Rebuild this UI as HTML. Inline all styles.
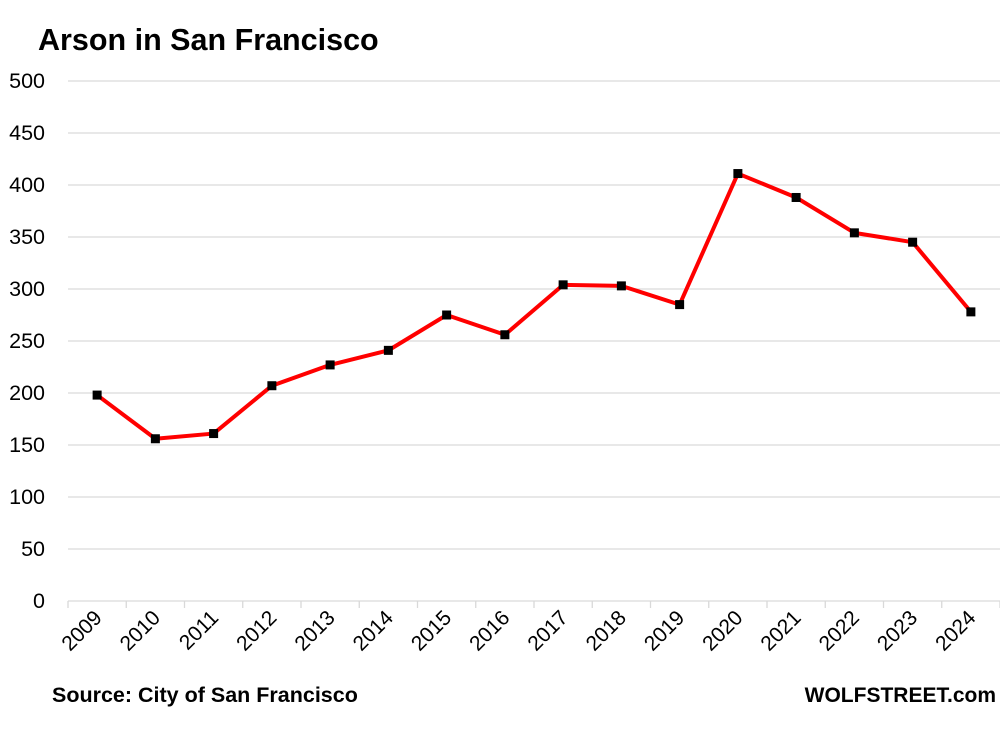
<!DOCTYPE html>
<html><head><style>
body{margin:0;background:#fff;}
svg{display:block;font-family:"Liberation Sans",Arial,sans-serif;}
</style></head><body>
<svg width="1000" height="729" viewBox="0 0 1000 729">
<text x="38" y="50" font-size="30.5" font-weight="bold" fill="#000">Arson in San Francisco</text>
<g stroke="#d9d9d9" stroke-width="1.3">
<line x1="68" y1="81" x2="1000" y2="81"/><line x1="68" y1="133" x2="1000" y2="133"/>
<line x1="68" y1="185" x2="1000" y2="185"/><line x1="68" y1="237" x2="1000" y2="237"/>
<line x1="68" y1="289" x2="1000" y2="289"/><line x1="68" y1="341" x2="1000" y2="341"/>
<line x1="68" y1="393" x2="1000" y2="393"/><line x1="68" y1="445" x2="1000" y2="445"/>
<line x1="68" y1="497" x2="1000" y2="497"/><line x1="68" y1="549" x2="1000" y2="549"/>
<line x1="68" y1="601" x2="1000" y2="601"/>
</g>
<g stroke="#d9d9d9" stroke-width="1.3" id="ticks"></g>
<g font-size="21.5" fill="#000" text-anchor="end">
<text x="45" y="88">500</text><text x="45" y="140">450</text><text x="45" y="192">400</text>
<text x="45" y="244">350</text><text x="45" y="296">300</text><text x="45" y="348">250</text>
<text x="45" y="400">200</text><text x="45" y="452">150</text><text x="45" y="504">100</text>
<text x="45" y="556">50</text><text x="45" y="608">0</text>
</g>
<g id="xl" font-size="21" fill="#000" text-anchor="end"></g>
<polyline id="ln" fill="none" stroke="#ff0000" stroke-width="4" stroke-linejoin="round"/>
<g id="mk" fill="#000"></g>
<text x="52" y="702" font-size="21.5" font-weight="bold">Source: City of San Francisco</text>
<text x="996" y="702" font-size="21" font-weight="bold" text-anchor="end">WOLFSTREET.com</text>
<script>
var d=[198,156,161,207,227,241,275,256,304,303,285,411,388,354,345,278];
var w=932/16,pts=[],ns="http://www.w3.org/2000/svg";
var xl=document.getElementById('xl'),mk=document.getElementById('mk'),tk=document.getElementById('ticks');
for(var i=0;i<=16;i++){var tx=68+i*w;var l=document.createElementNS(ns,'line');l.setAttribute('x1',tx);l.setAttribute('x2',tx);l.setAttribute('y1',601);l.setAttribute('y2',608);tk.appendChild(l);}
d.forEach(function(v,i){var x=68+w*(i+.5),y=601-v*1.04;pts.push(x+','+y);
var r=document.createElementNS(ns,'rect');r.setAttribute('x',x-4.5);r.setAttribute('y',y-4.5);r.setAttribute('width',9);r.setAttribute('height',9);mk.appendChild(r);
var t=document.createElementNS(ns,'text');t.setAttribute('transform','translate('+(x+6)+',619) rotate(-45)');t.textContent=2009+i;xl.appendChild(t);});
document.getElementById('ln').setAttribute('points',pts.join(' '));
</script>
</svg>
</body></html>
